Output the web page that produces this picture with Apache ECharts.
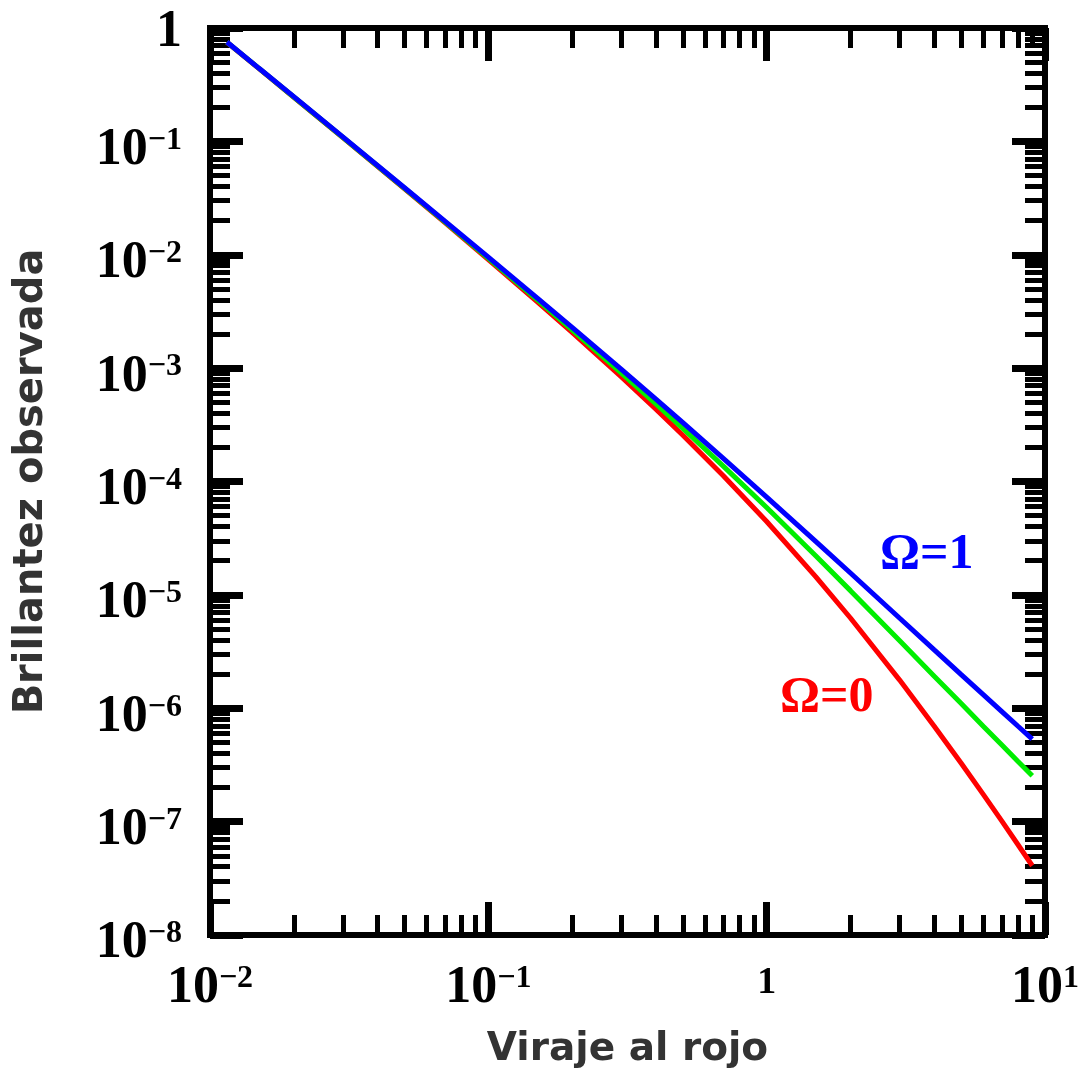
<!DOCTYPE html>
<html>
<head>
<meta charset="utf-8">
<title>Brillantez observada</title>
<script src="https://cdn.jsdelivr.net/npm/echarts@6/dist/echarts.min.js"></script>
<style>
  html, body { margin: 0; padding: 0; background: #fff; }
  #main { width: 1088px; height: 1078px; }
</style>
</head>
<body>
<div id="main"></div>
<script>
// valores (eje x: z, eje y: brillantez relativa)
var redshift = [0.0115, 0.015, 0.02, 0.03, 0.05, 0.07, 0.1, 0.15, 0.2, 0.3, 0.4, 0.5,
                0.7, 1, 1.5, 2, 3, 4, 5, 6, 7, 8, 9];
var omega1 = [0.752, 0.441, 0.248, 0.1095, 0.0390, 0.0197, 0.00954, 0.00415, 0.00229,
              9.79e-4, 5.32e-4, 3.30e-4, 1.59e-4, 7.29e-5, 2.96e-5, 1.56e-5, 6.25e-6,
              3.27e-6, 1.98e-6, 1.32e-6, 9.35e-7, 6.94e-7, 5.35e-7];
var omegaMid = [0.750, 0.440, 0.246, 0.1087, 0.0386, 0.0194, 0.00931, 0.00400, 0.00218,
                9.10e-4, 4.84e-4, 2.94e-4, 1.36e-4, 5.89e-5, 2.21e-5, 1.09e-5, 3.96e-6,
                1.92e-6, 1.10e-6, 6.94e-7, 4.73e-7, 3.39e-7, 2.54e-7];
var omega0 = [0.748, 0.438, 0.245, 0.1079, 0.0381, 0.0191, 0.00907, 0.00385, 0.00207,
              8.40e-4, 4.34e-4, 2.56e-4, 1.12e-4, 4.44e-5, 1.45e-5, 6.25e-6, 1.78e-6,
              6.94e-7, 3.27e-7, 1.74e-7, 1.01e-7, 6.25e-8, 4.08e-8];

var majorX = [0.01, 0.1, 1, 10];
var majorY = [1e-8, 1e-7, 1e-6, 1e-5, 1e-4, 1e-3, 1e-2, 1e-1, 1];

function minorOf(decades) {
    var out = [];
    for (var i = 0; i < decades.length - 1; i++) {
        for (var k = 2; k <= 9; k++) out.push(+(k * decades[i]).toPrecision(3));
    }
    return out;
}
var minorX = minorOf(majorX);
var minorY = minorOf(majorY);

function pairs(ys) {
    return redshift.map(function (z, i) { return [z, ys[i]]; });
}

var serif = 'Liberation Serif';
var rich = {
    b: { fontFamily: serif, fontWeight: 'bold', fontSize: 52, color: '#000', lineHeight: 52, verticalAlign: 'bottom' },
    s: { fontFamily: serif, fontWeight: 'bold', fontSize: 32, color: '#000', lineHeight: 30, padding: [0, 0, 26, 0], verticalAlign: 'top' },
    o: { fontFamily: serif, fontWeight: 'bold', fontSize: 52, color: '#000', lineHeight: 52, padding: [0, 0, 8, 0] },
    m: { fontFamily: serif, fontWeight: 'bold', fontSize: 38, color: '#000', lineHeight: 40 }
};

function powLabel(v, one) {
    var e = Math.round(Math.log10(v));
    if (e === 0) return one;
    return '{b|10}{s|' + (e < 0 ? '\u2212' + (-e) : e) + '}';
}

var lineBlack = { color: '#000', width: 6, cap: 'square' };

function axis(kind, pos, ticks, len, width, extra) {
    var a = {
        type: 'log',
        logBase: 10,
        position: pos,
        min: kind === 'x' ? 0.01 : 1e-8,
        max: kind === 'x' ? 10 : 1,
        splitNumber: kind === 'x' ? 3 : 8,
        axisLine: { show: false },
        axisTick: { show: true, inside: true, length: len, customValues: ticks,
                    lineStyle: { color: '#000', width: width } },
        axisLabel: { show: false },
        splitLine: { show: false },
        minorTick: { show: false }
    };
    return Object.assign(a, extra || {});
}

var myChart = echarts.init(document.getElementById('main'));
var option = {
    backgroundColor: '#fff',
    animation: false,
    grid: { left: 210, right: 43, top: 28, bottom: 143, containLabel: false },
    xAxis: [
        axis('x', 'bottom', majorX, 33, 7, {
            axisLine: { show: true, lineStyle: lineBlack },
            axisLabel: {
                show: true, margin: 28, customValues: majorX, rich: rich,
                formatter: function (v) { return powLabel(v, '{m|1}'); }
            },
            name: 'Viraje al rojo',
            nameLocation: 'middle',
            nameGap: 95,
            nameTextStyle: { fontFamily: 'DejaVu Sans', fontWeight: 'bold', fontSize: 39, color: '#333' }
        }),
        axis('x', 'bottom', minorX, 20, 5),
        axis('x', 'top', majorX, 33, 7, { axisLine: { show: true, lineStyle: lineBlack } }),
        axis('x', 'top', minorX, 20, 5)
    ],
    yAxis: [
        axis('y', 'left', majorY, 33, 7, {
            axisLine: { show: true, lineStyle: lineBlack },
            axisLabel: {
                show: true, margin: 28, customValues: majorY, rich: rich, padding: [18, 0, 0, 0],
                formatter: function (v) { return powLabel(v, '{o|1}'); }
            },
            name: 'Brillantez observada',
            nameLocation: 'middle',
            nameGap: 158,
            nameTextStyle: { fontFamily: 'DejaVu Sans', fontWeight: 'bold', fontSize: 40, color: '#333' }
        }),
        axis('y', 'left', minorY, 20, 5),
        axis('y', 'right', majorY, 33, 7, { axisLine: { show: true, lineStyle: lineBlack } }),
        axis('y', 'right', minorY, 20, 5)
    ],
    series: [
        { name: '\u03a9=0', type: 'line', data: pairs(omega0), showSymbol: false,
          lineStyle: { color: '#ff0000', width: 5 }, itemStyle: { color: '#ff0000' }, z: 2 },
        { name: 'intermedio', type: 'line', data: pairs(omegaMid), showSymbol: false,
          lineStyle: { color: '#00ee00', width: 5 }, itemStyle: { color: '#00ee00' }, z: 3 },
        { name: '\u03a9=1', type: 'line', data: pairs(omega1), showSymbol: false,
          lineStyle: { color: '#0000ff', width: 5 }, itemStyle: { color: '#0000ff' }, z: 4 }
    ],
    graphic: [
        { type: 'text', left: 880, top: 530, z: 10,
          style: { text: '\u03a9=1', fill: '#0000ff', font: 'bold 50px "Liberation Serif"' } },
        { type: 'text', left: 780, top: 673, z: 10,
          style: { text: '\u03a9=0', fill: '#ff0000', font: 'bold 50px "Liberation Serif"' } }
    ]
};
myChart.setOption(option);
</script>
</body>
</html>
